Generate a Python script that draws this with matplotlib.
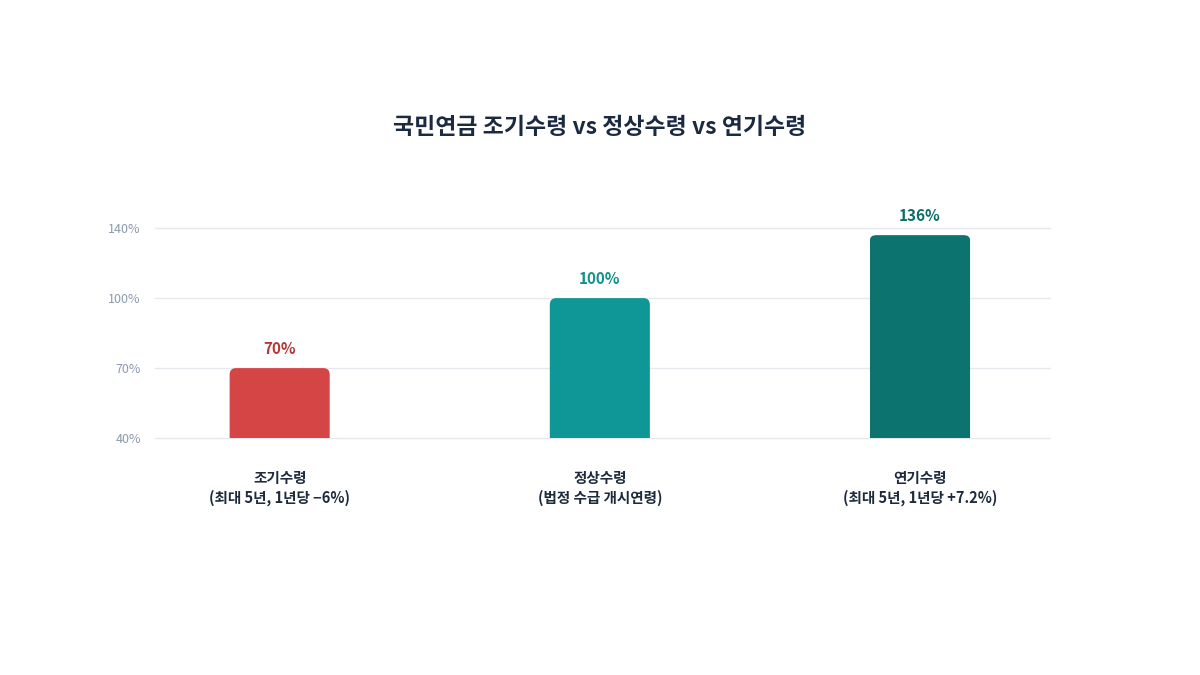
import numpy as np
from matplotlib import pyplot as plt
from matplotlib.patches import FancyBboxPatch

plt.rcParams['font.family'] = ['Noto Sans CJK KR', 'DejaVu Sans']

# data
categories = ['조기수령\n(최대 5년, 1년당 −6%)',
              '정상수령\n(법정 수급 개시연령)',
              '연기수령\n(최대 5년, 1년당 +7.2%)']
values = [70, 100, 136]
yticks = [40, 70, 100, 140]
title = '국민연금 조기수령 vs 정상수령 vs 연기수령'

bar_colors = ['#D64545', '#0F9696', '#0C736E']
label_colors = ['#B53838', '#12918D', '#0C6E6A']

# the y axis spaces its ticks evenly, so use a piecewise scale
scale_pts = [10, 40, 70, 100, 140, 180]
scale_pos = [-1, 0, 1, 2, 3, 4]

def forward(v):
    return np.interp(v, scale_pts, scale_pos)

def inverse(p):
    return np.interp(p, scale_pos, scale_pts)


fig = plt.figure(figsize=(12, 6.75), dpi=100)
ax = fig.add_axes([0.129, 0.351, 0.746, 0.311])
ax.set_yscale('function', functions=(forward, inverse))
ax.set_xlim(-0.39, 2.406)
ax.set_ylim(40, 140)

x = np.arange(len(categories))
w = 0.3125
for i, v in enumerate(values):
    # starts below the axis so only the top corners show rounded
    p = FancyBboxPatch((x[i] - w / 2, 20), w, v - 20,
                       boxstyle='round,pad=0,rounding_size=0.02',
                       mutation_aspect=140,
                       facecolor=bar_colors[i], edgecolor='none', zorder=2)
    ax.add_patch(p)
    ax.annotate(f'{v}%', (x[i], v), xytext=(0, 8), textcoords='offset points',
                ha='center', va='bottom', fontsize=11, fontweight='bold',
                color=label_colors[i])

ax.set_yticks(yticks)
ax.set_yticklabels([f'{t}%' for t in yticks])
ax.set_xticks(x)
ax.set_xticklabels(categories, fontsize=10.5, fontweight='bold', color='#1E2B3C',
                   linespacing=1.3)
ax.tick_params(axis='x', length=0, pad=23)
ax.tick_params(axis='y', length=0, pad=10, labelsize=9, labelcolor='#8C9AAE')

ax.yaxis.grid(True, color='#E6E8EE', linewidth=1)
for gl in ax.get_ygridlines():
    gl.set_clip_on(False)
ax.set_axisbelow(True)
for s in ax.spines.values():
    s.set_visible(False)

fig.text(0.5, 0.811, title, ha='center', va='center', fontsize=16.5,
         fontweight='bold', color='#1B2A41')

fig.savefig('out.png', dpi=100)
